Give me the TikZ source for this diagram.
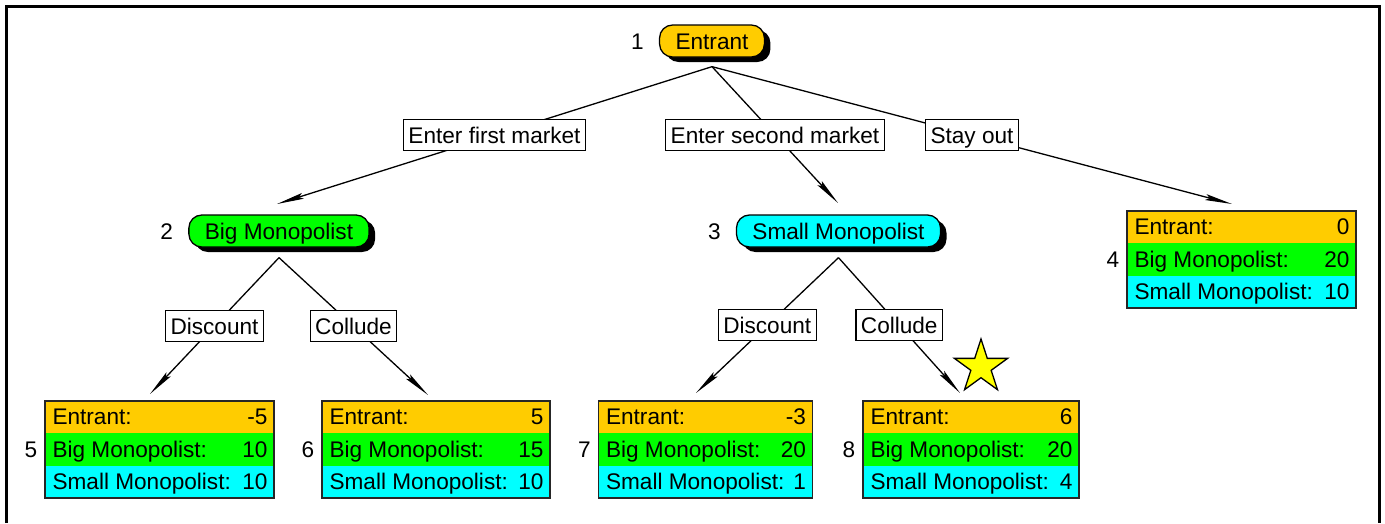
\documentclass[tikz,border=0pt]{standalone}
\usepackage{fontspec}
\setmainfont{Liberation Sans}
\usetikzlibrary{arrows.meta,shapes.geometric,shadows}

\definecolor{cOrg}{RGB}{255,204,0}
\definecolor{cGrn}{RGB}{0,255,0}
\definecolor{cCya}{RGB}{0,255,255}
\definecolor{cStar}{RGB}{255,255,0}

\tikzset{
  txt/.style={font=\fontsize{22.6pt}{27pt}\selectfont, text height=16.5pt, text depth=0pt},
  pill/.style={txt, draw=black, line width=1.3pt, rounded corners=13pt,
    minimum height=32pt, inner xsep=16pt, inner ysep=0pt,
    drop shadow={shadow xshift=6pt, shadow yshift=-5pt, fill=black, opacity=1}},
  lblbox/.style={txt, draw=black, fill=white, line width=1.3pt,
    minimum height=31pt, inner xsep=5pt, inner ysep=0pt},
  numlbl/.style={txt, inner sep=0pt},
  paytxt/.style={txt, inner sep=0pt},
  paybox/.style={draw=black!85, line width=1.3pt, minimum height=97pt, inner sep=0pt,
    path picture={
      \fill[cOrg] (path picture bounding box.north west) rectangle
        ([yshift=-32.33pt]path picture bounding box.north east);
      \fill[cGrn] ([yshift=-32.33pt]path picture bounding box.north west) rectangle
        ([yshift=-64.67pt]path picture bounding box.north east);
      \fill[cCya] ([yshift=-64.67pt]path picture bounding box.north west) rectangle
        (path picture bounding box.south east);
    }},
  edgeln/.style={line width=1.3pt, -{Stealth[length=27pt,width=6pt,inset=4pt]}},
}

% payoff table: name, centre, width, entrant, big, small, number
\newcommand\payoff[7]{%
  \node[paybox, minimum width=#3] (#1) at #2 {};
  \node[paytxt, anchor=west] (#1-el) at ([xshift=8pt,yshift=-16.2pt]#1.north west) {Entrant:};
  \node[paytxt, anchor=east] (#1-ev) at ([xshift=-7pt,yshift=-16.2pt]#1.north east) {#4};
  \node[paytxt, anchor=west] (#1-bl) at ([xshift=8pt,yshift=-48.5pt]#1.north west) {Big Monopolist:};
  \node[paytxt, anchor=east] (#1-bv) at ([xshift=-7pt,yshift=-48.5pt]#1.north east) {#5};
  \node[paytxt, anchor=west] (#1-sl) at ([xshift=8pt,yshift=-80.8pt]#1.north west) {Small Monopolist:};
  \node[paytxt, anchor=east] (#1-sv) at ([xshift=-7pt,yshift=-80.8pt]#1.north east) {#6};
  \node[numlbl, anchor=east] (#1-n) at ([xshift=-7pt]#1.west) {#7};
}

\begin{document}
\begin{tikzpicture}[x=1pt,y=-1pt]
\useasboundingbox (0,0) rectangle (1385,523);

% outer frame
\draw[line width=2.6pt] (6.5,523) -- (6.5,6.5) -- (1379.5,6.5) -- (1379.5,523);

% decision nodes
\node[pill, fill=cOrg] (e) at (712,41) {Entrant};
\node[numlbl, anchor=east] (e-n) at ([xshift=-15pt]e.west) {1};
\node[pill, fill=cGrn] (bm) at (279,231) {Big Monopolist};
\node[numlbl, anchor=east] (bm-n) at ([xshift=-15pt]bm.west) {2};
\node[pill, fill=cCya] (sm) at (838.5,231) {Small Monopolist};
\node[numlbl, anchor=east] (sm-n) at ([xshift=-15pt]sm.west) {3};

% payoff tables
\payoff{p4}{(1241.5,259.5)}{229pt}{0}{20}{10}{4}
\payoff{p5}{(159.5,449.5)}{229pt}{-5}{10}{10}{5}
\payoff{p6}{(436,449.5)}{228pt}{5}{15}{10}{6}
\payoff{p7}{(705.5,449.5)}{214pt}{-3}{20}{1}{7}
\payoff{p8}{(971,449.5)}{216pt}{6}{20}{4}{8}

% branch start and end points
\coordinate (e-out) at ([yshift=-9pt]e.south);
\coordinate (bm-out) at ([yshift=-10pt]bm.south);
\coordinate (sm-out) at ([yshift=-10pt]sm.south);
\coordinate (bm-in) at (277,204);
\coordinate (sm-in) at (838,203);
\coordinate (p4-in) at (1232,204);
\coordinate (p5-in) at (150,394);
\coordinate (p6-in) at (428,395);
\coordinate (p7-in) at (696,393);
\coordinate (p8-in) at (960,393);

% branches with their labels
\draw[edgeln] (e-out) -- node[lblbox] (l1) {Enter first market} (bm-in);
\draw[edgeln] (e-out) -- node[lblbox] (l2) {Enter second market} (sm-in);
\draw[edgeln] (e-out) -- node[lblbox] (l3) {Stay out} (p4-in);
\draw[edgeln] (bm-out) -- node[lblbox] (l4) {Discount} (p5-in);
\draw[edgeln] (bm-out) -- node[lblbox] (l5) {Collude} (p6-in);
\draw[edgeln] (sm-out) -- node[lblbox] (l6) {Discount} (p7-in);
\draw[edgeln] (sm-out) -- node[lblbox] (l7) {Collude} (p8-in);

% equilibrium marker
\node[star, star points=5, star point ratio=2.618, fill=cStar, draw=black,
      line width=1.3pt, minimum size=56pt, inner sep=0pt] (eq) at (981,367) {};
\end{tikzpicture}
\end{document}
